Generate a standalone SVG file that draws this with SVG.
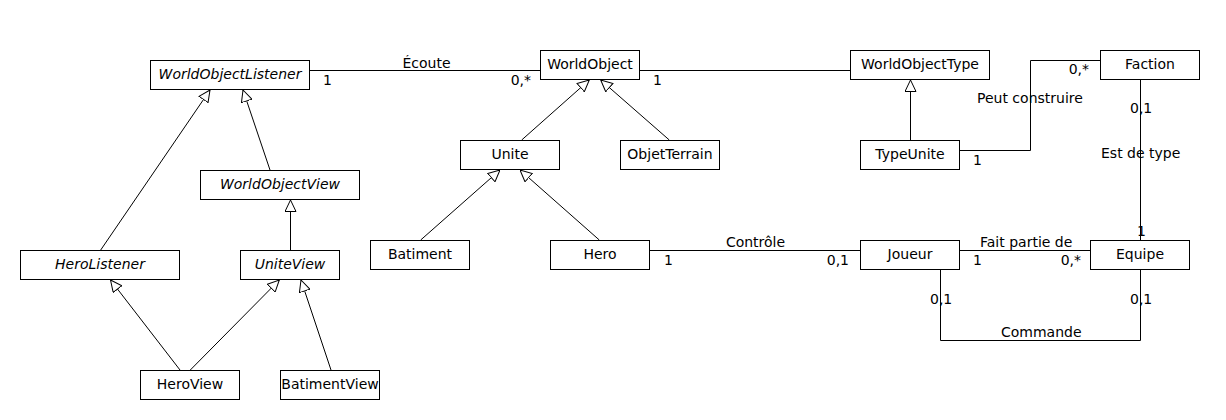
<svg xmlns="http://www.w3.org/2000/svg" width="1226" height="420" viewBox="0 0 1226 420">
<style>
  .box { fill: #ffffff; stroke: #000000; stroke-width: 1; }
  .lbl { font-family: "DejaVu Sans", "Liberation Sans", sans-serif; font-size: 14px; fill: #000000; }
  .name { text-anchor: middle; }
  .it { font-style: italic; }
  .mid { text-anchor: middle; }
  .end { text-anchor: end; }
  .edge { fill: none; stroke: #000000; stroke-width: 1; }
  .gen { marker-end: url(#tri); }
</style>
<defs>
  <marker id="tri" viewBox="0 0 12 12" refX="12" refY="6" markerWidth="12" markerHeight="12" markerUnits="userSpaceOnUse" orient="auto">
    <path d="M0.5,0.5 L12,6 L0.5,11.5 Z" fill="#ffffff" stroke="#000000" stroke-width="1"/>
  </marker>
</defs>
<rect width="1226" height="420" fill="#ffffff"/>

<g id="connectors">
  <path class="edge" d="M309.5 70.5 H540"/>
  <path class="edge" d="M639.5 70.5 H850"/>
  <path class="edge" d="M959.5 150.5 H1030.5 V60.5 H1100"/>
  <path class="edge" d="M1140.5 79.5 V240"/>
  <path class="edge" d="M649.5 250.5 H860"/>
  <path class="edge" d="M959.5 250.5 H1090"/>
  <path class="edge" d="M940.5 269.5 V340.5 H1140.5 V269.5"/>
  <path class="edge gen" d="M521.7 140 L589.3 80"/>
  <path class="edge gen" d="M669.3 140 L600.7 80"/>
  <path class="edge gen" d="M420.7 240 L500 170"/>
  <path class="edge gen" d="M599.3 240 L520 170"/>
  <path class="edge gen" d="M910.5 140 V80"/>
  <path class="edge gen" d="M100.7 250 L210 90"/>
  <path class="edge gen" d="M270 170 L243 90"/>
  <path class="edge gen" d="M290.5 250 V200"/>
  <path class="edge gen" d="M180 370 L110.5 280"/>
  <path class="edge gen" d="M190.3 370 L279.3 280"/>
  <path class="edge gen" d="M331 370 L301 280"/>

  <text class="lbl mid" x="426.5" y="67.5">Écoute</text>
  <text class="lbl" x="323" y="85">1</text>
  <text class="lbl end" x="531" y="85">0,*</text>
  <text class="lbl" x="653" y="85">1</text>
  <text class="lbl" x="977" y="103">Peut construire</text>
  <text class="lbl end" x="1089" y="74">0,*</text>
  <text class="lbl" x="973" y="165">1</text>
  <text class="lbl" x="1130" y="113">0,1</text>
  <text class="lbl" x="1101" y="158">Est de type</text>
  <text class="lbl" x="1137" y="236">1</text>
  <text class="lbl mid" x="755.5" y="247">Contrôle</text>
  <text class="lbl" x="664" y="265">1</text>
  <text class="lbl end" x="849" y="265">0,1</text>
  <text class="lbl" x="980" y="247">Fait partie de</text>
  <text class="lbl" x="973" y="265">1</text>
  <text class="lbl end" x="1081" y="265">0,*</text>
  <text class="lbl" x="1001" y="337">Commande</text>
  <text class="lbl" x="930" y="304">0,1</text>
  <text class="lbl" x="1130" y="304">0,1</text>
</g>

<g id="WorldObjectListener">
  <rect class="box" x="150.5" y="60.5" width="159" height="29"/>
  <text class="lbl name it" x="230" y="79">WorldObjectListener</text>
</g>
<g id="WorldObjectView">
  <rect class="box" x="200.5" y="170.5" width="159" height="29"/>
  <text class="lbl name it" x="280" y="189">WorldObjectView</text>
</g>
<g id="HeroListener">
  <rect class="box" x="20.5" y="250.5" width="159" height="29"/>
  <text class="lbl name it" x="100" y="269">HeroListener</text>
</g>
<g id="UniteView">
  <rect class="box" x="240.5" y="250.5" width="99" height="29"/>
  <text class="lbl name it" x="290" y="269">UniteView</text>
</g>
<g id="HeroView">
  <rect class="box" x="140.5" y="370.5" width="99" height="29"/>
  <text class="lbl name" x="190" y="389">HeroView</text>
</g>
<g id="BatimentView">
  <rect class="box" x="280.5" y="370.5" width="99" height="29"/>
  <text class="lbl name" x="330" y="389">BatimentView</text>
</g>
<g id="WorldObject">
  <rect class="box" x="540.5" y="50.5" width="99" height="29"/>
  <text class="lbl name" x="590" y="69">WorldObject</text>
</g>
<g id="Unite">
  <rect class="box" x="460.5" y="140.5" width="99" height="29"/>
  <text class="lbl name" x="510" y="159">Unite</text>
</g>
<g id="ObjetTerrain">
  <rect class="box" x="620.5" y="140.5" width="99" height="29"/>
  <text class="lbl name" x="670" y="159">ObjetTerrain</text>
</g>
<g id="Batiment">
  <rect class="box" x="370.5" y="240.5" width="99" height="29"/>
  <text class="lbl name" x="420" y="259">Batiment</text>
</g>
<g id="Hero">
  <rect class="box" x="550.5" y="240.5" width="99" height="29"/>
  <text class="lbl name" x="600" y="259">Hero</text>
</g>
<g id="WorldObjectType">
  <rect class="box" x="850.5" y="50.5" width="139" height="29"/>
  <text class="lbl name" x="920" y="69">WorldObjectType</text>
</g>
<g id="Faction">
  <rect class="box" x="1100.5" y="50.5" width="99" height="29"/>
  <text class="lbl name" x="1150" y="69">Faction</text>
</g>
<g id="TypeUnite">
  <rect class="box" x="860.5" y="140.5" width="99" height="29"/>
  <text class="lbl name" x="910" y="159">TypeUnite</text>
</g>
<g id="Joueur">
  <rect class="box" x="860.5" y="240.5" width="99" height="29"/>
  <text class="lbl name" x="910" y="259">Joueur</text>
</g>
<g id="Equipe">
  <rect class="box" x="1090.5" y="240.5" width="99" height="29"/>
  <text class="lbl name" x="1140" y="259">Equipe</text>
</g>
</svg>
